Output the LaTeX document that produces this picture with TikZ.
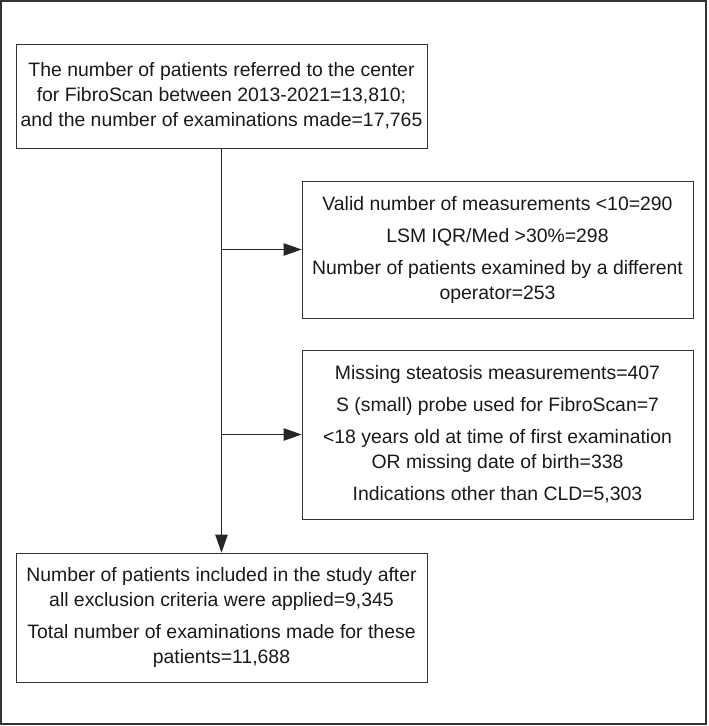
\documentclass[tikz,border=0pt]{standalone}
\usepackage{fontspec}
\setmainfont{Liberation Sans}
\usetikzlibrary{positioning,arrows.meta}

\begin{document}
\begin{tikzpicture}[x=1pt, y=-1pt, font=\fontsize{19.4}{25}\selectfont,
  box/.style={draw=black!80, line width=0.9pt, align=center, inner sep=0pt, text=black!90},
  wide/.style={box, minimum width=411pt},
  side/.style={box, minimum width=391pt},
  arr/.style={draw=black!85, line width=0.9pt, -{Triangle[length=18pt, width=12.5pt]}}]
  \useasboundingbox (0,0) rectangle (709,726);
  \draw[black!80, line width=1.4pt] (1,1) rectangle (706,724);
  % boxes
  \node[wide, minimum height=104pt] (total) at (221.5,96)
    {The number of patients referred to the center\\ for FibroScan between 2013-2021=13,810;\\ and the number of examinations made=17,765};
  \node[side, minimum height=137pt] (excla) at (497.5,249.5)
    {Valid number of measurements <10=290\\[7pt] LSM IQR/Med >30\%=298\\[7pt] Number of patients examined by a different\\ operator=253};
  \node[side, minimum height=169pt] (exclb) at (497.5,434.5)
    {Missing steatosis measurements=407\\[7pt] S (small) probe used for FibroScan=7\\[7pt] <18 years old at time of first examination\\ OR missing date of birth=338\\[7pt] Indications other than CLD=5,303};
  \node[wide, minimum height=129pt] (incl) at (221.5,617.5)
    {Number of patients included in the study after\\ all exclusion criteria were applied=9,345\\[7pt] Total number of examinations made for these\\ patients=11,688};
  % connectors
  \coordinate (ja) at (total.south |- excla.west);
  \coordinate (jb) at (total.south |- exclb.west);
  \draw[arr] (total) -- (incl);
  \draw[arr] (ja) -- (excla);
  \draw[arr] (jb) -- (exclb);
\end{tikzpicture}
\end{document}
